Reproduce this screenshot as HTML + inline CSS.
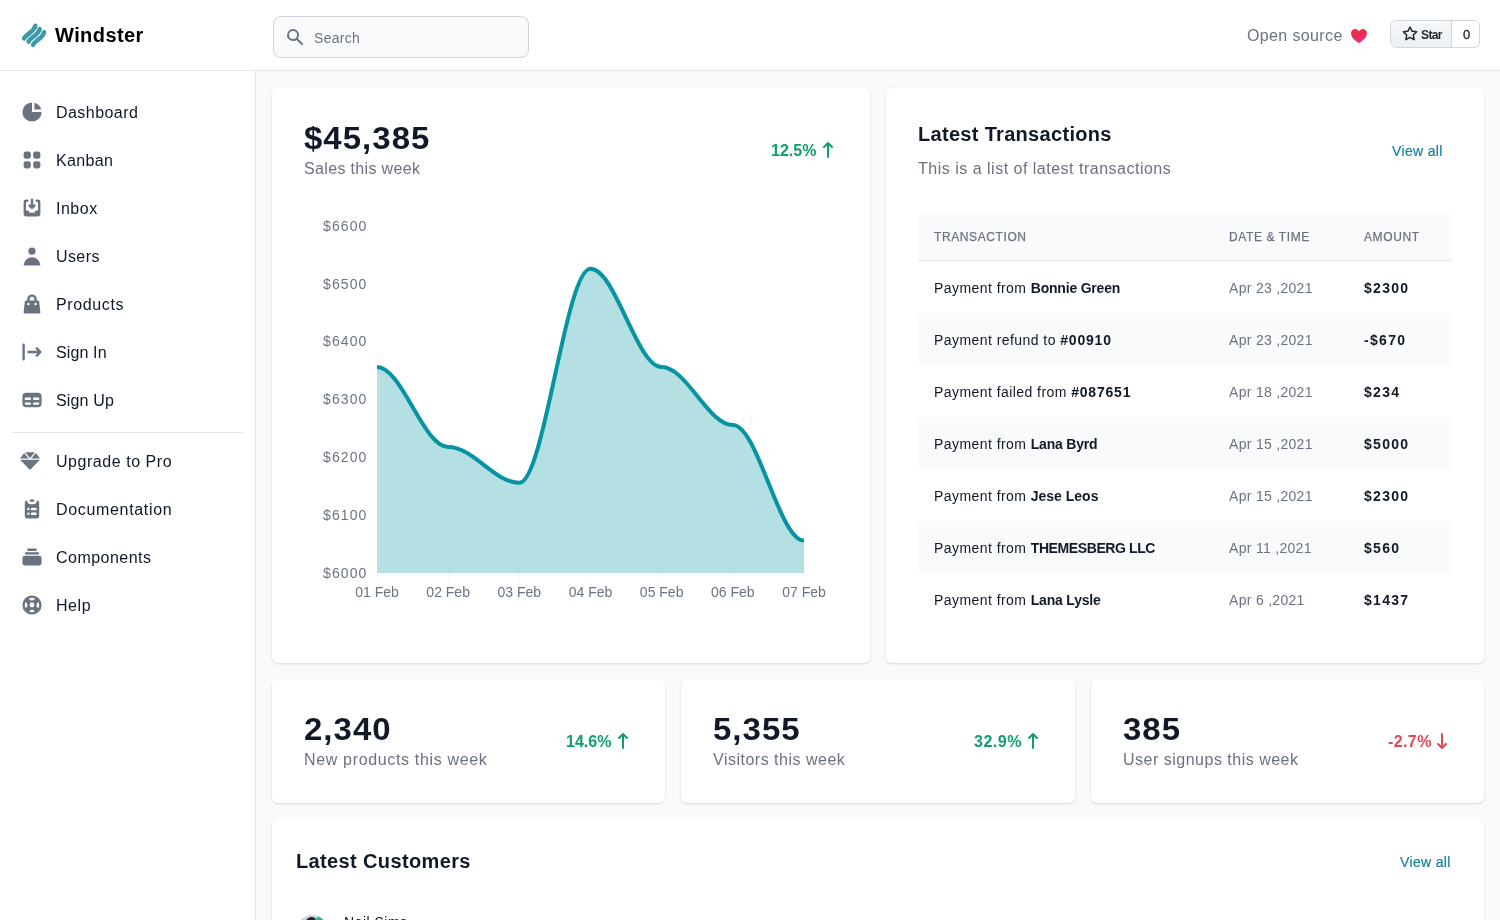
<!DOCTYPE html>
<html>
<head>
<meta charset="utf-8">
<style>
*{box-sizing:border-box;margin:0;padding:0}
html,body{width:1500px;height:920px;overflow:hidden}
body{font-family:"Liberation Sans",sans-serif;background:#F9FAFB;position:relative;color:#111827}
.abs{position:absolute}
#hdr{position:absolute;left:0;top:0;width:1500px;height:71px;background:#fff;border-bottom:1px solid #E5E7EB}
#side{position:absolute;left:0;top:71px;width:256px;height:849px;background:#fff;border-right:1px solid #E5E7EB}
.card{position:absolute;background:#fff;border-radius:6px;box-shadow:0 1px 3px 0 rgba(0,0,0,.1),0 1px 2px 0 rgba(0,0,0,.06)}
.nav{position:absolute;left:20px;height:24px;width:230px}
.nav svg{position:absolute;left:0;top:0;width:24px;height:24px;fill:#6B7280}
.nav span{position:absolute;left:36px;top:1px;line-height:24px;font-size:16px;color:#111827;white-space:nowrap;letter-spacing:.45px}
.t{position:absolute;white-space:nowrap}
.th{-webkit-text-stroke:.25px #6B7280;font-size:12px;line-height:16px;margin-top:1px;color:#6B7280;text-transform:uppercase;letter-spacing:.05em}
.td{margin-top:1px;font-size:14px;line-height:20px;color:#111827;letter-spacing:.44px}
.td b{font-weight:bold;letter-spacing:-.2px}
.td b.n{letter-spacing:.8px}
.tdd{margin-top:1px;left:1229px;font-size:14px;line-height:20px;color:#6B7280;letter-spacing:.3px}
.tda{margin-top:1px;left:1364px;font-size:14px;line-height:20px;color:#111827;font-weight:bold;letter-spacing:1.3px}
.big{font-size:32px;line-height:36px;font-weight:bold;color:#111827;letter-spacing:1px;transform:scaleX(1.03);transform-origin:0 0}
.sub{font-size:16px;line-height:24px;color:#6B7280;margin-top:1px;letter-spacing:.5px}
.pct{font-size:16px;line-height:20px;font-weight:bold;color:#0E9F6E}
</style>
</head>
<body><div id="root" style="position:absolute;left:0;top:0;width:1500px;height:920px;will-change:transform">
<!-- HEADER -->
<div id="hdr">
  <svg class="abs" style="left:18px;top:19px" width="32" height="32" viewBox="0 0 32 32">
    <g fill="none" stroke="#3A9AA8" stroke-width="4.5" stroke-linecap="round">
      <path d="M6.2 19.4 C8 14.8 15.6 13.6 17.3 6.8"/>
      <path d="M6.2 19.4 C8 14.8 15.6 13.6 17.3 6.8" transform="translate(4.4 3.2)"/>
      <path d="M6.2 19.4 C8 14.8 15.6 13.6 17.3 6.8" transform="translate(8.8 6.4)"/>
    </g>
  </svg>
  <div class="t" style="left:55px;top:21px;font-size:20px;line-height:28px;font-weight:bold;color:#000;letter-spacing:.43px">Windster</div>
  <div class="abs" style="left:273px;top:16px;width:256px;height:42px;background:#F9FAFB;border:1px solid #D1D5DB;border-radius:8px">
    <svg class="abs" style="left:11px;top:10px" width="20" height="20" viewBox="0 0 20 20" fill="#6B7280"><path fill-rule="evenodd" d="M8 4a4 4 0 100 8 4 4 0 000-8zM2 8a6 6 0 1110.89 3.476l4.817 4.817a1 1 0 01-1.414 1.414l-4.816-4.816A6 6 0 012 8z" clip-rule="evenodd"/></svg>
    <div class="t" style="left:40px;top:11px;font-size:14px;line-height:20px;color:#6B7280;letter-spacing:.3px">Search</div>
  </div>
  <div class="t" style="left:1247px;top:24px;font-size:16px;line-height:24px;color:#6B7280;letter-spacing:.37px">Open source</div>
  <svg class="abs" style="left:1350px;top:28px" width="18" height="16" viewBox="0 0 18 16">
    <defs><linearGradient id="hg" x1="0.2" y1="0" x2="0.5" y2="1"><stop offset="0" stop-color="#F5364A"/><stop offset="0.45" stop-color="#E9284F"/><stop offset="1" stop-color="#E33A9A"/></linearGradient></defs>
    <path d="M9 15.3 C8.3 14.9 1 10.6 1 5.3 C1 2.7 2.9 0.9 5.1 0.9 C6.9 0.9 8.3 2 9 3.2 C9.7 2 11.1 0.9 12.9 0.9 C15.1 0.9 17 2.7 17 5.3 C17 10.6 9.7 14.9 9 15.3Z" fill="url(#hg)"/>
  </svg>
  <div class="abs" style="left:1390px;top:20px;width:90px;height:28px;border:1px solid #D0D7DE;border-radius:6px;overflow:hidden;background:#fff">
    <div class="abs" style="left:0;top:0;width:61px;height:26px;background:linear-gradient(#F6F8FA,#EBF0F4);border-right:1px solid #D0D7DE"></div>
    <svg class="abs" style="left:10.5px;top:5px" width="16" height="16" viewBox="0 0 16 16" fill="#24292F"><path d="M8 .25a.75.75 0 01.673.418l1.882 3.815 4.21.612a.75.75 0 01.416 1.279l-3.046 2.97.719 4.192a.75.75 0 01-1.088.791L8 12.347l-3.766 1.98a.75.75 0 01-1.088-.79l.72-4.194L.818 6.374a.75.75 0 01.416-1.28l4.21-.611L7.327.668A.75.75 0 018 .25zm0 2.445L6.615 5.5a.75.75 0 01-.564.41l-3.097.45 2.24 2.184a.75.75 0 01.216.664l-.528 3.084 2.769-1.456a.75.75 0 01.698 0l2.77 1.456-.53-3.084a.75.75 0 01.216-.664l2.24-2.183-3.096-.45a.75.75 0 01-.564-.41L8 2.694z"/></svg>
    <div class="t" style="left:30px;top:6px;font-size:12px;line-height:16px;font-weight:bold;color:#24292F;letter-spacing:-.6px">Star</div>
    <div class="t" style="left:72px;top:6px;font-size:13px;line-height:16px;color:#24292F;-webkit-text-stroke:.3px #24292F">0</div>
  </div>
</div>

<!-- SIDEBAR -->
<div id="side">
  <div class="nav" style="top:29px"><svg viewBox="0 0 20 20"><path d="M2 10a8 8 0 018-8v8h8a8 8 0 11-16 0z"/><path d="M12 2.252A8.014 8.014 0 0117.748 8H12V2.252z"/></svg><span>Dashboard</span></div>
  <div class="nav" style="top:77px"><svg viewBox="0 0 20 20"><path d="M5 3a2 2 0 00-2 2v2a2 2 0 002 2h2a2 2 0 002-2V5a2 2 0 00-2-2H5zM5 11a2 2 0 00-2 2v2a2 2 0 002 2h2a2 2 0 002-2v-2a2 2 0 00-2-2H5zM11 5a2 2 0 012-2h2a2 2 0 012 2v2a2 2 0 01-2 2h-2a2 2 0 01-2-2V5zM11 13a2 2 0 012-2h2a2 2 0 012 2v2a2 2 0 01-2 2h-2a2 2 0 01-2-2v-2z"/></svg><span style="letter-spacing:.34px">Kanban</span></div>
  <div class="nav" style="top:125px"><svg viewBox="0 0 20 20"><path d="M8.707 7.293a1 1 0 00-1.414 1.414l2 2a1 1 0 001.414 0l2-2a1 1 0 00-1.414-1.414L11 7.586V3a1 1 0 10-2 0v4.586l-.293-.293z"/><path d="M3 5a2 2 0 012-2h1a1 1 0 010 2H5v7h2l1 2h4l1-2h2V5h-1a1 1 0 110-2h1a2 2 0 012 2v10a2 2 0 01-2 2H5a2 2 0 01-2-2V5z"/></svg><span style="letter-spacing:.5px">Inbox</span></div>
  <div class="nav" style="top:173px"><svg viewBox="0 0 20 20"><path fill-rule="evenodd" d="M10 9a3 3 0 100-6 3 3 0 000 6zm-7 9a7 7 0 1114 0H3z" clip-rule="evenodd"/></svg><span style="letter-spacing:.4px">Users</span></div>
  <div class="nav" style="top:221px"><svg viewBox="0 0 20 20"><path fill-rule="evenodd" d="M10 2a4 4 0 00-4 4v1H5a1 1 0 00-.994.89l-1 9A1 1 0 004 18h12a1 1 0 00.994-1.11l-1-9A1 1 0 0015 7h-1V6a4 4 0 00-4-4zm2 5V6a2 2 0 10-4 0v1h4zm-6 3a1 1 0 112 0 1 1 0 01-2 0zm7-1a1 1 0 100 2 1 1 0 000-2z" clip-rule="evenodd"/></svg><span style="letter-spacing:.63px">Products</span></div>
  <div class="nav" style="top:269px"><svg viewBox="0 0 20 20"><path fill-rule="evenodd" d="M3 3a1 1 0 00-1 1v12a1 1 0 102 0V4a1 1 0 00-1-1zm10.293 9.293a1 1 0 001.414 1.414l3-3a1 1 0 000-1.414l-3-3a1 1 0 10-1.414 1.414L14.586 9H7a1 1 0 100 2h7.586l-1.293 1.293z" clip-rule="evenodd"/></svg><span style="letter-spacing:.12px">Sign In</span></div>
  <div class="nav" style="top:317px"><svg viewBox="0 0 20 20"><path fill-rule="evenodd" d="M5 4a3 3 0 00-3 3v6a3 3 0 003 3h10a3 3 0 003-3V7a3 3 0 00-3-3H5zm-1 9v-1h5v2H5a1 1 0 01-1-1zm7 1h4a1 1 0 001-1v-1h-5v2zm0-4h5V8h-5v2zM9 8H4v2h5V8z" clip-rule="evenodd"/></svg><span style="letter-spacing:.15px">Sign Up</span></div>
  <div class="abs" style="left:12px;top:361px;width:231px;height:1px;background:#E5E7EB"></div>
  <div class="nav" style="top:378px"><svg viewBox="0 0 512 512" style="left:0;top:2px;width:20px;height:20px"><path d="M378.7 32H133.3L256 182.7L378.7 32zM512 192l-107.4-141.3L289.6 192H512zM107.4 50.67L0 192h222.4L107.4 50.67zM244.3 474.9C247.3 478.2 251.6 480 256 480s8.653-1.828 11.67-5.062L510.6 224H1.365L244.3 474.9z"/></svg><span style="letter-spacing:.54px">Upgrade to Pro</span></div>
  <div class="nav" style="top:426px"><svg viewBox="0 0 20 20"><path d="M9 2a1 1 0 000 2h2a1 1 0 100-2H9z"/><path fill-rule="evenodd" d="M4 5a2 2 0 012-2 3 3 0 003 3h2a3 3 0 003-3 2 2 0 012 2v11a2 2 0 01-2 2H6a2 2 0 01-2-2V5zm3 4a1 1 0 000 2h.01a1 1 0 100-2H7zm3 0a1 1 0 000 2h3a1 1 0 100-2h-3zm-3 4a1 1 0 100 2h.01a1 1 0 100-2H7zm3 0a1 1 0 100 2h3a1 1 0 100-2h-3z" clip-rule="evenodd"/></svg><span style="letter-spacing:.67px">Documentation</span></div>
  <div class="nav" style="top:474px"><svg viewBox="0 0 20 20"><path d="M7 3a1 1 0 000 2h6a1 1 0 100-2H7zM4 7a1 1 0 011-1h10a1 1 0 110 2H5a1 1 0 01-1-1zM2 11a2 2 0 012-2h12a2 2 0 012 2v4a2 2 0 01-2 2H4a2 2 0 01-2-2v-4z"/></svg><span style="letter-spacing:.47px">Components</span></div>
  <div class="nav" style="top:522px"><svg viewBox="0 0 20 20"><path fill-rule="evenodd" d="M18 10a8 8 0 11-16 0 8 8 0 0116 0zm-2 0c0 .993-.241 1.929-.668 2.754l-1.524-1.525a3.997 3.997 0 00.078-2.183l1.562-1.562C15.802 8.249 16 9.1 16 10zm-5.165 3.913l1.58 1.58A5.98 5.98 0 0110 16a5.976 5.976 0 01-2.516-.552l1.562-1.562a4.006 4.006 0 001.789.027zm-4.677-2.796a4.002 4.002 0 01-.041-2.08l-.08.08-1.53-1.533A5.98 5.98 0 004 10c0 .954.223 1.856.619 2.657l1.54-1.54zm1.088-6.45A5.974 5.974 0 0110 4c.954 0 1.856.223 2.657.619l-1.54 1.54a4.002 4.002 0 00-2.346.033L7.246 4.668zM12 10a2 2 0 11-4 0 2 2 0 014 0z" clip-rule="evenodd"/></svg><span style="letter-spacing:.57px">Help</span></div>
</div>

<!-- SALES CARD -->
<div class="card" style="left:272px;top:88px;width:598px;height:575px"></div>
<div class="t" style="left:304px;top:120px;font-size:32px;line-height:36px;font-weight:bold;color:#111827;letter-spacing:1px;transform:scaleX(1.03);transform-origin:0 0">$45,385</div>
<div class="t" style="left:304px;top:157px;font-size:16px;line-height:24px;color:#6B7280;letter-spacing:.34px">Sales this week</div>
<div class="t" style="left:771px;top:141px;font-size:16px;line-height:20px;font-weight:bold;color:#0E9F6E">12.5%</div>
<svg class="abs" style="left:818px;top:140px" width="20" height="20" viewBox="0 0 20 20" fill="#0E9F6E"><path fill-rule="evenodd" d="M5.293 7.707a1 1 0 010-1.414l4-4a1 1 0 011.414 0l4 4a1 1 0 01-1.414 1.414L11 5.414V17a1 1 0 11-2 0V5.414L6.707 7.707a1 1 0 01-1.414 0z" clip-rule="evenodd"/></svg>

<svg class="abs" style="left:0;top:0" width="1500" height="920">
  <path d="M377.00 367.11 C401.91 367.11 423.26 446.92 448.17 446.92 C473.08 446.92 494.43 482.78 519.33 482.78 C544.24 482.78 565.59 268.80 590.50 268.80 C615.41 268.80 636.76 367.11 661.67 367.11 C686.58 367.11 707.93 424.95 732.83 424.95 C757.74 424.95 779.09 540.61 804.00 540.61 L804.00 573 L377.00 573 Z" fill="#0694A2" fill-opacity="0.3"/>
  <path d="M377.00 367.11 C401.91 367.11 423.26 446.92 448.17 446.92 C473.08 446.92 494.43 482.78 519.33 482.78 C544.24 482.78 565.59 268.80 590.50 268.80 C615.41 268.80 636.76 367.11 661.67 367.11 C686.58 367.11 707.93 424.95 732.83 424.95 C757.74 424.95 779.09 540.61 804.00 540.61" fill="none" stroke="#0694A2" stroke-width="4" stroke-linecap="butt"/>
  <line x1="377.5" y1="573" x2="377.5" y2="579" stroke="#EEF0F3" stroke-width="1"/><line x1="448.5" y1="573" x2="448.5" y2="579" stroke="#EEF0F3" stroke-width="1"/><line x1="519.5" y1="573" x2="519.5" y2="579" stroke="#EEF0F3" stroke-width="1"/><line x1="590.5" y1="573" x2="590.5" y2="579" stroke="#EEF0F3" stroke-width="1"/><line x1="661.5" y1="573" x2="661.5" y2="579" stroke="#EEF0F3" stroke-width="1"/><line x1="733.5" y1="573" x2="733.5" y2="579" stroke="#EEF0F3" stroke-width="1"/><line x1="804.5" y1="573" x2="804.5" y2="579" stroke="#EEF0F3" stroke-width="1"/>
  <g font-family="Liberation Sans" font-size="14" fill="#6B7280" letter-spacing="1.1">
    <text x="323" y="231">$6600</text>
    <text x="323" y="289">$6500</text>
    <text x="323" y="346">$6400</text>
    <text x="323" y="404">$6300</text>
    <text x="323" y="462">$6200</text>
    <text x="323" y="520">$6100</text>
    <text x="323" y="578">$6000</text>
  </g>
  <g font-family="Liberation Sans" font-size="14" fill="#6B7280" text-anchor="middle">
    <text x="377" y="597">01 Feb</text>
    <text x="448.17" y="597">02 Feb</text>
    <text x="519.33" y="597">03 Feb</text>
    <text x="590.5" y="597">04 Feb</text>
    <text x="661.67" y="597">05 Feb</text>
    <text x="732.83" y="597">06 Feb</text>
    <text x="804" y="597">07 Feb</text>
  </g>
</svg>

<!-- TRANSACTIONS CARD -->
<div class="card" style="left:886px;top:88px;width:598px;height:575px"></div>
<div class="t" style="left:918px;top:120px;font-size:20px;line-height:28px;font-weight:bold;color:#111827;letter-spacing:.31px">Latest Transactions</div>
<div class="t" style="left:918px;top:157px;font-size:16px;line-height:24px;color:#6B7280;letter-spacing:.5px">This is a list of latest transactions</div>
<div class="t" style="left:1392px;top:141px;font-size:14px;line-height:20px;color:#1683A0;-webkit-text-stroke:.2px #1683A0;letter-spacing:.34px">View all</div>
<div class="abs" style="left:918px;top:212px;width:534px;height:49px;background:#F9FAFB;border-radius:6px 6px 0 0;border-bottom:1px solid #E5E7EB"></div>
<div class="abs" style="left:918px;top:313px;width:534px;height:52px;background:#F9FAFB;border-radius:4px"></div>
<div class="abs" style="left:918px;top:417px;width:534px;height:52px;background:#F9FAFB;border-radius:4px"></div>
<div class="abs" style="left:918px;top:521px;width:534px;height:52px;background:#F9FAFB;border-radius:4px"></div>
<div class="th t" style="left:934px;top:228px">Transaction</div>
<div class="th t" style="left:1229px;top:228px">Date &amp; Time</div>
<div class="th t" style="left:1364px;top:228px">Amount</div>
<div class="td t" style="top:277px;left:934px">Payment from <b>Bonnie Green</b></div>
<div class="tdd t" style="top:277px">Apr 23 ,2021</div>
<div class="tda t" style="top:277px">$2300</div>
<div class="td t" style="top:329px;left:934px">Payment refund to <b class="n">#00910</b></div>
<div class="tdd t" style="top:329px">Apr 23 ,2021</div>
<div class="tda t" style="top:329px">-$670</div>
<div class="td t" style="top:381px;left:934px">Payment failed from <b class="n">#087651</b></div>
<div class="tdd t" style="top:381px">Apr 18 ,2021</div>
<div class="tda t" style="top:381px">$234</div>
<div class="td t" style="top:433px;left:934px">Payment from <b>Lana Byrd</b></div>
<div class="tdd t" style="top:433px">Apr 15 ,2021</div>
<div class="tda t" style="top:433px">$5000</div>
<div class="td t" style="top:485px;left:934px">Payment from <b style="letter-spacing:0">Jese Leos</b></div>
<div class="tdd t" style="top:485px">Apr 15 ,2021</div>
<div class="tda t" style="top:485px">$2300</div>
<div class="td t" style="top:537px;left:934px">Payment from <b style="letter-spacing:-.4px">THEMESBERG LLC</b></div>
<div class="tdd t" style="top:537px">Apr 11 ,2021</div>
<div class="tda t" style="top:537px">$560</div>
<div class="td t" style="top:589px;left:934px">Payment from <b>Lana Lysle</b></div>
<div class="tdd t" style="top:589px">Apr 6 ,2021</div>
<div class="tda t" style="top:589px">$1437</div>

<!-- STATS -->
<div class="card" style="left:272px;top:679px;width:393.33px;height:124px"></div>
<div class="card" style="left:681.33px;top:679px;width:393.33px;height:124px"></div>
<div class="card" style="left:1090.67px;top:679px;width:393.33px;height:124px"></div>
<div class="t big" style="left:304px;top:711px">2,340</div>
<div class="t sub" style="left:304px;top:747px;letter-spacing:.66px">New products this week</div>
<div class="t pct" style="left:566px;top:732px">14.6%</div>
<svg class="abs" style="left:613px;top:731px" width="20" height="20" viewBox="0 0 20 20" fill="#0E9F6E"><path fill-rule="evenodd" d="M5.293 7.707a1 1 0 010-1.414l4-4a1 1 0 011.414 0l4 4a1 1 0 01-1.414 1.414L11 5.414V17a1 1 0 11-2 0V5.414L6.707 7.707a1 1 0 01-1.414 0z" clip-rule="evenodd"/></svg>
<div class="t big" style="left:713px;top:711px">5,355</div>
<div class="t sub" style="left:713px;top:747px">Visitors this week</div>
<div class="t pct" style="left:974px;top:732px;letter-spacing:.5px">32.9%</div>
<svg class="abs" style="left:1023px;top:731px" width="20" height="20" viewBox="0 0 20 20" fill="#0E9F6E"><path fill-rule="evenodd" d="M5.293 7.707a1 1 0 010-1.414l4-4a1 1 0 011.414 0l4 4a1 1 0 01-1.414 1.414L11 5.414V17a1 1 0 11-2 0V5.414L6.707 7.707a1 1 0 01-1.414 0z" clip-rule="evenodd"/></svg>
<div class="t big" style="left:1123px;top:711px">385</div>
<div class="t sub" style="left:1123px;top:747px">User signups this week</div>
<div class="t pct" style="left:1388px;top:732px;color:#DC4A52;letter-spacing:.4px">-2.7%</div>
<svg class="abs" style="left:1432px;top:731px" width="20" height="20" viewBox="0 0 20 20" fill="#DC4A52"><path fill-rule="evenodd" d="M14.707 12.293a1 1 0 010 1.414l-4 4a1 1 0 01-1.414 0l-4-4a1 1 0 111.414-1.414L9 14.586V3a1 1 0 012 0v11.586l2.293-2.293a1 1 0 011.414 0z" clip-rule="evenodd"/></svg>

<!-- CUSTOMERS -->
<div class="card" style="left:272px;top:819px;width:1212px;height:200px"></div>
<div class="t" style="left:296px;top:851px;font-size:20px;line-height:20px;font-weight:bold;color:#111827;letter-spacing:.37px">Latest Customers</div>
<div class="t" style="left:1400px;top:852px;font-size:14px;line-height:20px;color:#1683A0;-webkit-text-stroke:.2px #1683A0;letter-spacing:.34px">View all</div>
<div class="abs" style="left:296px;top:915px;width:32px;height:32px;border-radius:50%;background:#CBD5DC;overflow:hidden">
  <div class="abs" style="left:9px;top:2px;width:13px;height:16px;border-radius:50%;background:#1F2329"></div>
  <div class="abs" style="left:18px;top:1px;width:16px;height:14px;border-radius:50%;background:#2BB5A8"></div>
</div>
<div class="t" style="left:344px;top:912px;font-size:14px;line-height:20px;color:#111827;letter-spacing:.5px">Neil Sims</div>

</div></body>
</html>
